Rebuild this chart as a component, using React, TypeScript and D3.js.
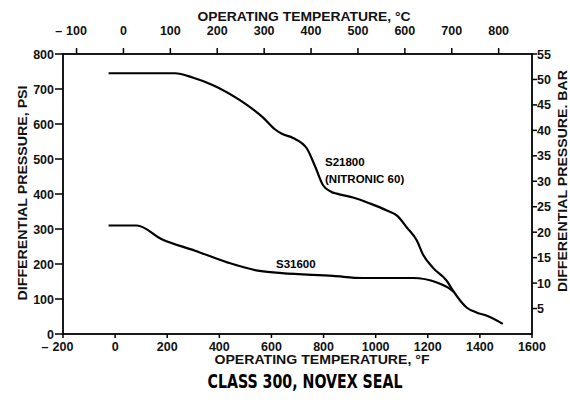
import * as d3 from 'd3';

// Differential pressure (psi) vs operating temperature (°F)
const s21800Temp = [-25, 230, 300, 376, 479, 567, 613, 640, 683, 736, 767, 798, 830, 851, 913, 978, 1043, 1082, 1120, 1158, 1181, 1220, 1273, 1293, 1350, 1389, 1427, 1488];
const s21800Psi = [745, 745, 732, 711, 668, 619, 585, 572, 560, 530, 480, 425, 406, 401, 390, 373, 353, 338, 304, 267, 228, 189, 152, 128, 75, 61, 52, 29];

const s31600Temp = [-25, 83, 179, 307, 433, 548, 640, 836, 951, 1143, 1235, 1285, 1300];
const s31600Psi = [310, 310, 271, 238, 204, 181, 174, 166, 160, 160, 147, 129, 120];

const fTicks = [-200, 0, 200, 400, 600, 800, 1000, 1200, 1400, 1600];
const cTicks = [-100, 0, 100, 200, 300, 400, 500, 600, 700, 800];
const psiTicks = [0, 100, 200, 300, 400, 500, 600, 700, 800];
const barTicks = [5, 10, 15, 20, 25, 30, 35, 40, 45, 50, 55];

const W = 570;
const H = 402;
const left = 63, right = 532, top = 54, bottom = 334;

const font = "'Liberation Sans', Arial, sans-serif";
const tickSize = 12.5;

// number centred on the tick, minus sign hanging to its left
function TickLabel({ x, y, v }: { x: number; y: number; v: number }) {
  const s = `${Math.abs(v)}`;
  const half = (s.length * tickSize * 0.556) / 2;
  return (
    <g fontFamily={font} fontSize={tickSize} fontWeight={700} fill="#111">
      <text x={x} y={y} textAnchor="middle">{s}</text>
      {v < 0 && <text x={x - half - 4} y={y} textAnchor="end">{'\u2013'}</text>}
    </g>
  );
}

export default function App() {
  const x = d3.scaleLinear().domain([-200, 1600]).range([left, right]);
  const y = d3.scaleLinear().domain([0, 800]).range([bottom, top]);
  const yBar = d3.scaleLinear().domain([0, 55]).range([bottom, top]);
  const cToF = (c: number) => c * 1.8 + 32;

  const line = d3.line<[number, number]>()
    .x(d => x(d[0]))
    .y(d => y(d[1]))
    .curve(d3.curveMonotoneX);

  const s21800 = s21800Temp.map((t, i) => [t, s21800Psi[i]] as [number, number]);
  const s31600 = s31600Temp.map((t, i) => [t, s31600Psi[i]] as [number, number]);

  const tickStyle = { fontFamily: font, fontSize: tickSize, fontWeight: 700, fill: '#111' };
  const titleStyle = { fontFamily: font, fontSize: 12.5, fontWeight: 700, fill: '#111', lengthAdjust: 'spacingAndGlyphs' as const };

  return (
    <svg width={W} height={H} style={{ position: 'absolute', left: 0, top: 0, background: '#fff' }}>
      {/* frame */}
      <rect x={left} y={top} width={right - left} height={bottom - top} fill="none" stroke="#000" strokeWidth={1.8} />

      {/* left axis */}
      {psiTicks.map(v => (
        <g key={'p' + v}>
          <line x1={left - 8} x2={left} y1={y(v)} y2={y(v)} stroke="#000" strokeWidth={1.5} />
          <text x={left - 9} y={y(v) + 4.5} textAnchor="end" {...tickStyle}>{v}</text>
        </g>
      ))}

      {/* right axis */}
      {barTicks.map(v => (
        <g key={'b' + v}>
          <line x1={right} x2={right + 5} y1={yBar(v)} y2={yBar(v)} stroke="#000" strokeWidth={1.5} />
          <text x={right + 5} y={yBar(v) + 4.5} textAnchor="start" {...tickStyle}>{v}</text>
        </g>
      ))}

      {/* bottom axis */}
      {fTicks.map(v => (
        <g key={'f' + v}>
          <line x1={x(v)} x2={x(v)} y1={bottom} y2={bottom + 4} stroke="#000" strokeWidth={1.5} />
          <TickLabel x={x(v)} y={bottom + 17} v={v} />
        </g>
      ))}

      {/* top axis */}
      {cTicks.map(v => (
        <g key={'c' + v}>
          <line x1={x(cToF(v))} x2={x(cToF(v))} y1={top} y2={top - 6} stroke="#000" strokeWidth={1.5} />
          <TickLabel x={x(cToF(v))} y={top - 19} v={v} />
        </g>
      ))}

      {/* axis titles */}
      <text x={304} y={21} textAnchor="middle" textLength={213} {...titleStyle}>OPERATING TEMPERATURE, °C</text>
      <text x={322} y={364} textAnchor="middle" textLength={215} {...titleStyle}>OPERATING TEMPERATURE, °F</text>
      <text transform={`translate(27,193) rotate(-90)`} textAnchor="middle" textLength={215} {...titleStyle}>DIFFERENTIAL PRESSURE, PSI</text>
      <text transform={`translate(567,181) rotate(-90)`} textAnchor="middle" textLength={222} {...titleStyle}>DIFFERENTIAL PRESSURE. BAR</text>
      <text x={305} y={388} textAnchor="middle" fontFamily="'DejaVu Sans Condensed', 'Liberation Sans Narrow', sans-serif" fontSize={19} fontWeight={700} textLength={195} lengthAdjust="spacingAndGlyphs">CLASS 300, NOVEX SEAL</text>

      {/* curves */}
      <path d={line(s21800) || ''} fill="none" stroke="#000" strokeWidth={2.2} />
      <path d={line(s31600) || ''} fill="none" stroke="#000" strokeWidth={2.2} />

      {/* labels */}
      <text x={325} y={166} fontFamily={font} fontSize={11.5} fontWeight={700}>S21800</text>
      <text x={325} y={183} fontFamily={font} fontSize={11.5} fontWeight={700}>(NITRONIC 60)</text>
      <text x={276} y={268} fontFamily={font} fontSize={11.5} fontWeight={700}>S31600</text>
    </svg>
  );
}
